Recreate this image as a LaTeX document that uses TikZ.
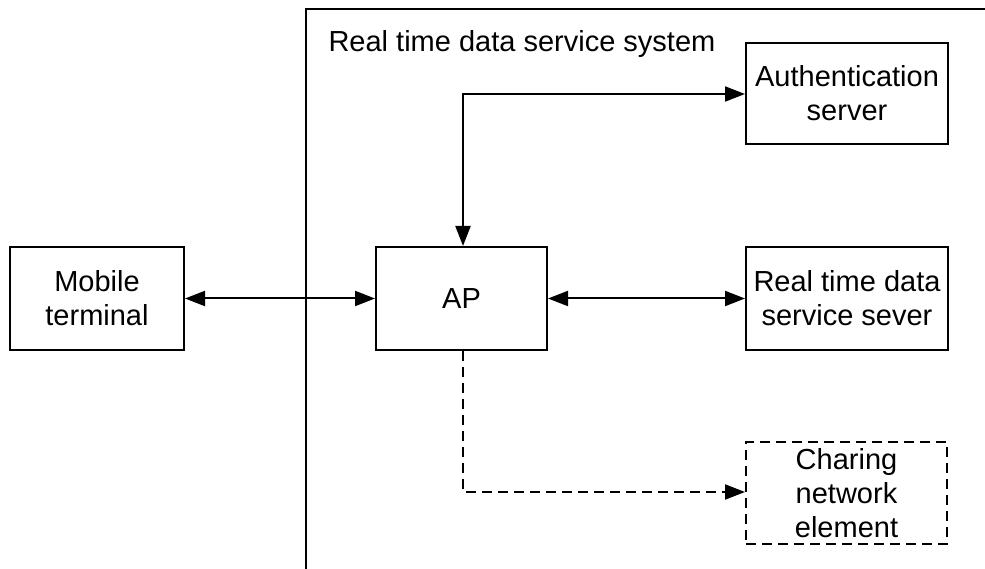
\documentclass[tikz,border=0pt]{standalone}
\usepackage{fontspec}
\setmainfont{Liberation Sans}
\usetikzlibrary{arrows.meta}
\begin{document}
\begin{tikzpicture}[x=1pt,y=-1pt,
  box/.style={draw,line width=2pt,minimum width=0pt,inner sep=0pt,font=\fontsize{29}{34}\selectfont,align=center},
  conn/.style={line width=2pt,{Triangle[length=20pt,width=15pt]}-{Triangle[length=20pt,width=15pt]}},
  oneway/.style={line width=2pt,-{Triangle[length=20pt,width=15pt]}}]
\useasboundingbox (0,0) rectangle (985,569);
\draw[line width=2pt] (985,9) -- (306,9) -- (306,569);
\node[anchor=west,font=\fontsize{29}{34}\selectfont] (title) at (325,44) {Real time data service system};
\node[box,minimum width=174pt,minimum height=103pt] (mt) at (97,298.5) {Mobile\\terminal};
\node[box,minimum width=171pt,minimum height=103pt] (ap) at (461.5,298.5) {AP};
\node[box,minimum width=202pt,minimum height=101pt] (auth) at (847,93.5) {Authentication\\server};
\node[box,minimum width=202pt,minimum height=103pt] (rt) at (847,298.5) {Real time data\\service sever};
\node[box,dashed,dash pattern=on 10pt off 6pt,minimum width=201pt,minimum height=102pt] (ch) at (846.5,493) {Charing\\network\\element};
\coordinate (bend) at (463,94);
\coordinate (dbend) at (463,492);
\draw[conn] (mt) -- (ap);
\draw[conn] (ap) -- (rt);
\draw[conn] (ap.north -| bend) -- (bend) -- (auth.west |- bend);
\draw[oneway,dash pattern=on 10pt off 6pt] (ap.south -| dbend) -- (dbend) -- (ch.west |- dbend);
\end{tikzpicture}
\end{document}
